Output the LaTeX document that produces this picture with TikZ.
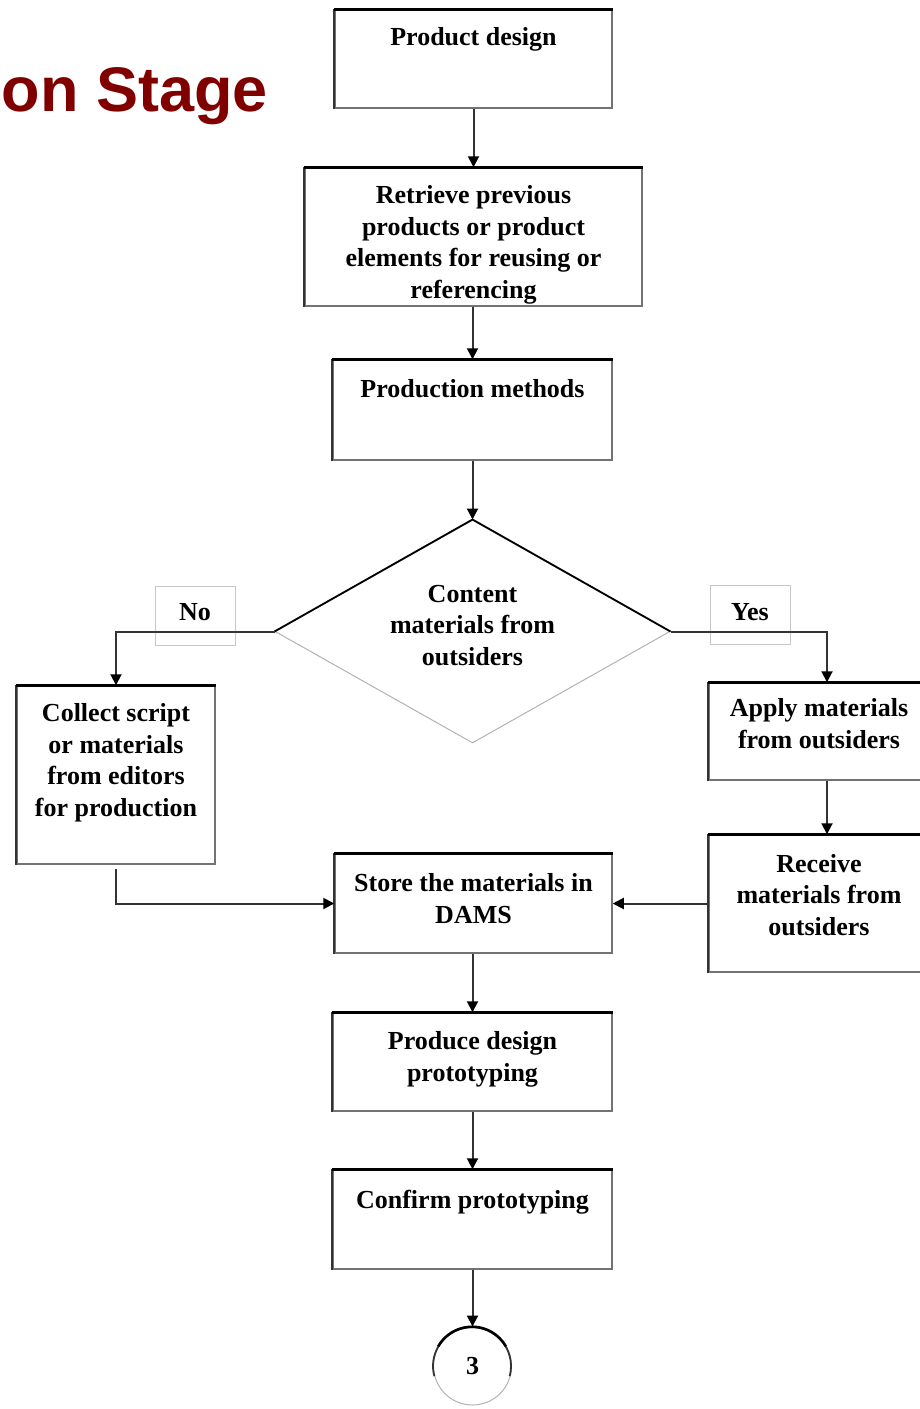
\documentclass[tikz,border=0pt]{standalone}
\usepackage{fontspec}
\setmainfont{Liberation Serif}
\newfontfamily\titlefont{Liberation Sans}
\usetikzlibrary{shapes.geometric,arrows.meta,calc}
\definecolor{titlered}{RGB}{128,0,0}
\begin{document}
\begin{tikzpicture}[x=0.5pt,y=-0.5pt,
  box/.style={draw=black!55, line width=0.75pt, rectangle, inner sep=0pt},
  lbl/.style={draw=black!22, line width=0.5pt, rectangle, inner sep=0pt, minimum width=40pt, minimum height=29.5pt},
  txt/.style={anchor=base, align=center, inner sep=0pt, font=\fontsize{13pt}{15.75pt}\selectfont\bfseries},
  topedge/.style={draw=black, line width=1.3pt},
  leftedge/.style={draw=black!80, line width=0.9pt},
  conn/.style={draw=black!80, line width=1pt, -{Triangle[length=5.5pt,width=5.5pt,color=black]}}]
\useasboundingbox (0,0) rectangle (920,1409);
\clip (0,0) rectangle (920,1409);

% title
\node[anchor=base east, inner sep=0pt, text=titlered, font=\titlefont\fontsize{31.5pt}{36pt}\selectfont\bfseries] (title) at (268,111) {on Stage};

% boxes
\node[box, minimum width=138.5pt, minimum height=49pt] (b1) at (473.5,59) {};
\node[box, minimum width=168.5pt, minimum height=69pt] (b2) at (473.5,237) {};
\node[box, minimum width=139.5pt, minimum height=50pt] (b3) at (472.5,410) {};
\node[draw=black!30, line width=0.5pt, diamond, inner sep=0pt, minimum width=197.5pt, minimum height=111.5pt] (d) at (472.5,631.5) {};
\node[box, minimum width=99pt, minimum height=89pt] (b4) at (116,775) {};
\node[box, minimum width=118pt, minimum height=48.5pt] (b5) at (827,731.5) {};
\node[box, minimum width=118pt, minimum height=68.5pt] (b6) at (827,903.5) {};
\node[box, minimum width=138.5pt, minimum height=49.5pt] (b7) at (473.5,903.5) {};
\node[box, minimum width=139.5pt, minimum height=49pt] (b8) at (472.5,1062) {};
\node[box, minimum width=139.5pt, minimum height=49.5pt] (b9) at (472.5,1219.5) {};
\node[circle, draw=black!30, line width=0.5pt, minimum size=39pt, inner sep=0pt] (c) at (472.5,1366) {};

% label boxes
\node[lbl] (nob) at (195,615.5) {};
\node[lbl] (yesb) at (750,615) {};

% darker top/left edges
\foreach \n in {b1,b2,b3,b4,b5,b6,b7,b8,b9} {
  \draw[leftedge] (\n.south west) -- (\n.north west);
  \draw[topedge] (\n.north west) -- (\n.north east);
}
\draw[topedge, line width=0.9pt] (d.west) -- (d.north) -- (d.east);
\draw[leftedge] (c.195) arc[start angle=195, end angle=-15, radius=19.5pt];
\draw[topedge] (c.150) arc[start angle=150, end angle=30, radius=19.5pt];

% texts (base = baseline of last line)
\node[txt] (t1) at (473.5,45) {Product design};
\node[txt] (t2) at (473.5,298) {Retrieve previous\\products or product\\elements for reusing or\\referencing};
\node[txt] (t3) at (472.5,397) {Production methods};
\node[txt] (td) at (472.5,665) {Content\\materials from\\outsiders};
\node[txt] (t4) at (116,816) {Collect script\\or materials\\from editors\\for production};
\node[txt] (t5) at (819,748) {Apply materials\\from outsiders};
\node[txt] (t6) at (819,935) {Receive\\materials from\\outsiders};
\node[txt] (t7) at (473.5,923) {Store the materials in\\DAMS};
\node[txt] (t8) at (472.5,1081) {Produce design\\prototyping};
\node[txt] (t9) at (472.5,1208) {Confirm prototyping};
\node[txt] (tc) at (472.5,1374) {3};
\node[txt] (tno) at (195,620) {No};
\node[txt] (tyes) at (750,620) {Yes};

% connectors
\draw[conn] (b1.south) -- (b2.north);
\draw[conn] (b2.south -| b3.north) -- (b3.north);
\draw[conn] (b3.south) -- (d.north);
\draw[conn] (d.west) -| (b4.north);
\draw[conn] (d.east) -| (b5.north);
\draw[conn] (b5.south) -- (b6.north);
\draw[conn] (b6.west) -- (b7.east);
\draw[conn] ([yshift=-2pt]b4.south) |- (b7.west);
\draw[conn] (b7.south -| b8.north) -- (b8.north);
\draw[conn] (b8.south) -- (b9.north);
\draw[conn] (b9.south) -- (c.north);
\end{tikzpicture}
\end{document}
